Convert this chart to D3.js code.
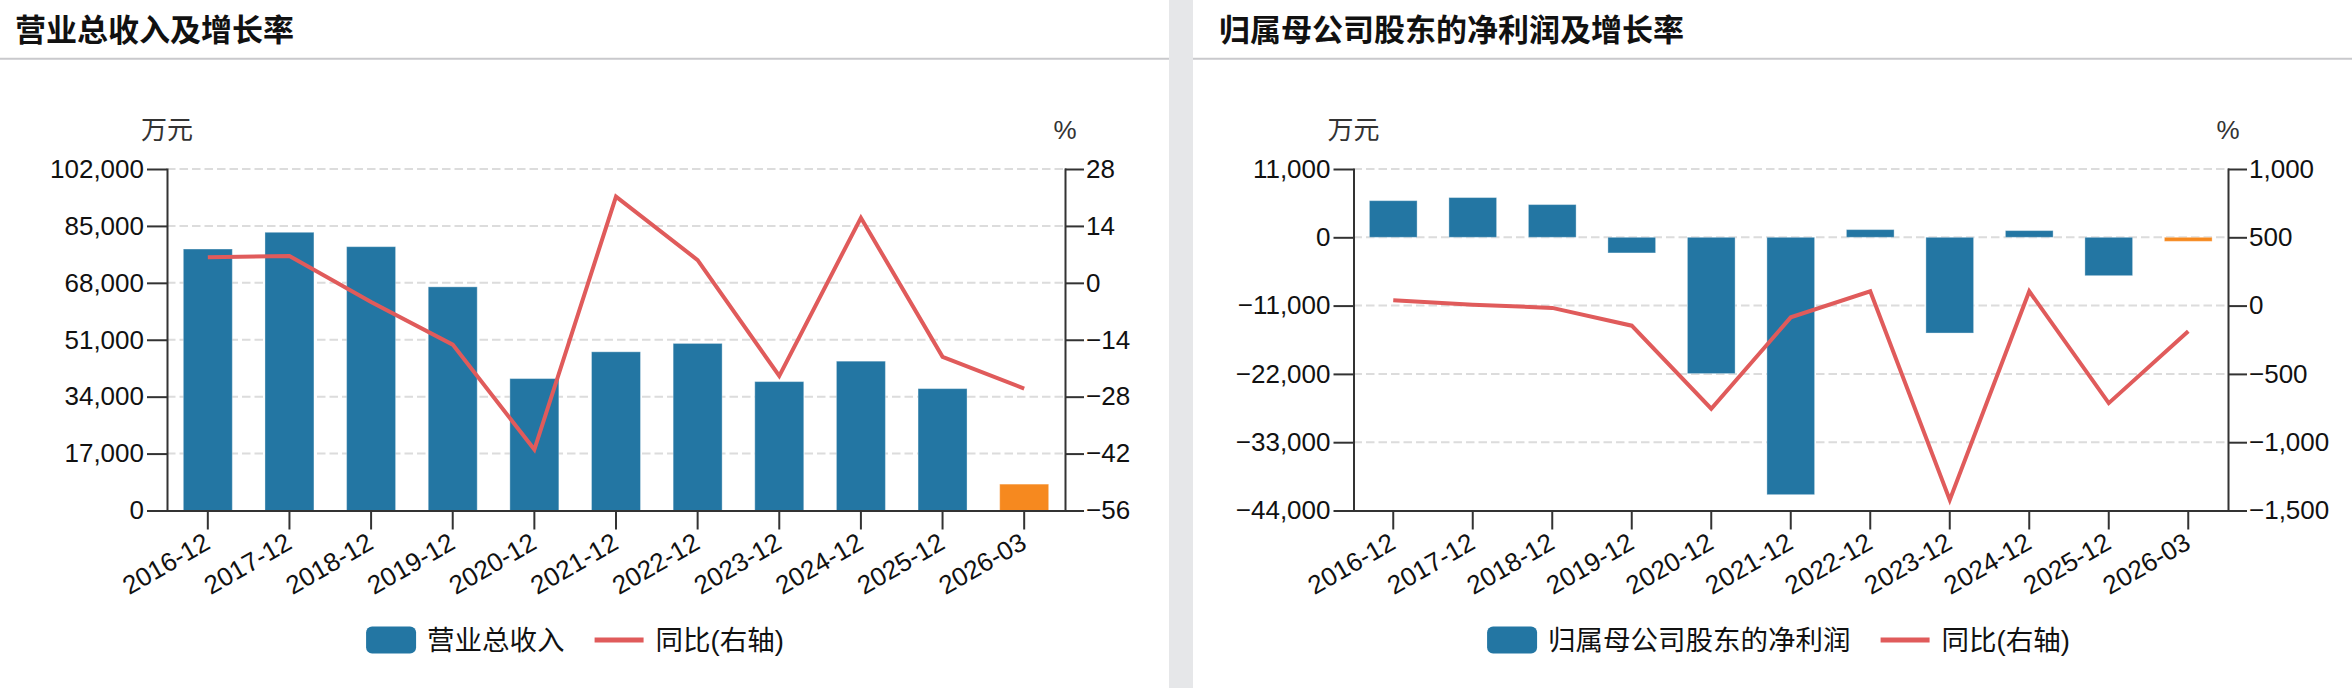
<!DOCTYPE html>
<html>
<head>
<meta charset="utf-8">
<script src="https://cdn.jsdelivr.net/npm/d3@7"></script>
<style>
  html, body { margin: 0; padding: 0; background: #fff; }
  svg { display: block; }
  text { font-family: "Liberation Sans", "Noto Sans CJK SC", sans-serif; }
</style>
</head>
<body>
<script>
// data
const periods = ["2016-12", "2017-12", "2018-12", "2019-12", "2020-12", "2021-12",
                 "2022-12", "2023-12", "2024-12", "2025-12", "2026-03"];

const revenue = [78100, 83100, 78800, 66800, 39400, 47400, 49900, 38500, 44600, 36400, 7880];
const revenueYoy = [6.3, 6.6, -4.7, -15.2, -41.0, 21.2, 5.6, -22.9, 16.0, -18.2, -26.0];
const revenueTicks = [0, 17000, 34000, 51000, 68000, 85000, 102000];
const revenueYoyTicks = [-56, -42, -28, -14, 0, 14, 28];

const netProfit = [5900, 6400, 5270, -2520, -21950, -41450, 1240, -15420, 1080, -6180, -650];
const netProfitYoy = [39, 7, -17, -147, -755, -86, 105, -1422, 105, -714, -188];
const netProfitTicks = [-44000, -33000, -22000, -11000, 0, 11000];
const netProfitYoyTicks = [-1500, -1000, -500, 0, 500, 1000];

// colours
const barColor = "#2376a3",
      lastColor = "#f6891f",
      lineColor = "#e05b5b",
      axisColor = "#333";

const W = 2352, H = 688;
const plotTop = 169, plotBottom = 510.5;

const svg = d3.select("body").append("svg")
    .attr("width", W)
    .attr("height", H);

// grey gutter between the two panels
svg.append("rect")
    .attr("x", 1169).attr("y", 0)
    .attr("width", 24).attr("height", H)
    .attr("fill", "#e6e7e9");

const fmt = d3.format(",");

function drawPanel(cfg) {
  const g = svg.append("g");

  // header
  g.append("text")
      .attr("x", cfg.titleX)
      .attr("y", 27)
      .attr("dominant-baseline", "central")
      .style("font-family", "'Noto Sans CJK SC', sans-serif")
      .style("font-size", "31px")
      .style("font-weight", "bold")
      .attr("fill", "#111")
      .text(cfg.title);

  g.append("line")
      .attr("x1", cfg.x0).attr("x2", cfg.x1)
      .attr("y1", 58.7).attr("y2", 58.7)
      .attr("stroke", "#c9c9cc")
      .attr("stroke-width", 2);

  // scales
  const x = d3.scaleBand()
      .domain(periods)
      .range([cfg.left, cfg.right])
      .paddingInner(0.4)
      .paddingOuter(0.2);

  const y = d3.scaleLinear()
      .domain(d3.extent(cfg.ticks))
      .range([plotBottom, plotTop]);

  const y2 = d3.scaleLinear()
      .domain(d3.extent(cfg.ticks2))
      .range([plotBottom, plotTop]);

  // dashed grid
  g.append("g")
    .selectAll("line")
    .data(cfg.ticks.filter(t => y(t) < plotBottom - 1))
    .join("line")
      .attr("x1", cfg.left).attr("x2", cfg.right)
      .attr("y1", d => y(d)).attr("y2", d => y(d))
      .attr("stroke", "#dcdcdc")
      .attr("stroke-width", 2)
      .attr("stroke-dasharray", "8.5,4");

  // bars
  const last = periods.length - 1;
  g.append("g")
    .selectAll("rect")
    .data(cfg.bars)
    .join("rect")
      .attr("x", (d, i) => x(periods[i]))
      .attr("y", d => y(Math.max(0, d)))
      .attr("width", x.bandwidth())
      .attr("height", d => Math.abs(y(d) - y(0)))
      .attr("fill", (d, i) => i === last ? lastColor : barColor)
      .attr("stroke", "#fff")
      .attr("stroke-opacity", 0.35)
      .attr("stroke-width", 1);

  // axes
  const styleAxis = sel => {
    sel.selectAll("path, line").attr("stroke", axisColor).attr("stroke-width", 2);
    sel.selectAll("text").attr("fill", "#111").style("font-size", "26px");
  };

  g.append("g")
      .attr("transform", `translate(${cfg.left},0)`)
      .call(d3.axisLeft(y).tickValues(cfg.ticks).tickFormat(fmt)
            .tickSize(20).tickSizeOuter(0).tickPadding(3))
      .call(styleAxis);

  g.append("g")
      .attr("transform", `translate(${cfg.right},0)`)
      .call(d3.axisRight(y2).tickValues(cfg.ticks2).tickFormat(fmt)
            .tickSize(19).tickSizeOuter(0).tickPadding(2))
      .call(styleAxis);

  g.append("g")
      .attr("transform", `translate(0,${plotBottom})`)
      .call(d3.axisBottom(x).tickSize(19).tickSizeOuter(0))
      .call(styleAxis)
    .selectAll("text")
      .attr("x", 0).attr("y", 0).attr("dy", 0)
      .attr("transform", "translate(4,37) rotate(-30)")
      .style("text-anchor", "end");

  g.selectAll(".domain").attr("stroke-linecap", "square");

  // unit labels
  [["万元", cfg.left], ["%", cfg.right]].forEach(([t, cx]) => {
    g.append("text")
        .attr("x", cx).attr("y", 130)
        .attr("text-anchor", "middle")
        .attr("dominant-baseline", "central")
        .attr("fill", "#333")
        .style("font-size", "26px")
        .text(t);
  });

  // yoy line
  const line = d3.line()
      .x((d, i) => x(periods[i]) + x.bandwidth() / 2)
      .y(d => y2(d));

  g.append("path")
      .datum(cfg.line)
      .attr("d", line)
      .attr("fill", "none")
      .attr("stroke", lineColor)
      .attr("stroke-width", 4)
      .attr("stroke-linejoin", "miter");

  // legend
  const lg = g.append("g");
  const ly = 640;
  const t1 = lg.append("text")
      .attr("dominant-baseline", "central")
      .attr("y", ly)
      .style("font-size", "27.5px")
      .attr("fill", "#111")
      .text(cfg.barName);
  const t2 = lg.append("text")
      .attr("dominant-baseline", "central")
      .attr("y", ly)
      .style("font-size", "27.5px")
      .attr("fill", "#111")
      .text("同比(右轴)");

  const w1 = t1.node().getComputedTextLength(),
        w2 = t2.node().getComputedTextLength();
  const total = 50 + 11 + w1 + 30 + 49 + 12 + w2;
  let lx = cfg.legendCx - total / 2;

  lg.append("rect")
      .attr("x", lx).attr("y", ly - 13.5)
      .attr("width", 50).attr("height", 27)
      .attr("rx", 6)
      .attr("fill", barColor);
  t1.attr("x", lx + 61);
  lx += 61 + w1 + 30;
  lg.append("line")
      .attr("x1", lx).attr("x2", lx + 49)
      .attr("y1", ly).attr("y2", ly)
      .attr("stroke", lineColor)
      .attr("stroke-width", 5);
  t2.attr("x", lx + 61);
}

drawPanel({
  title: "营业总收入及增长率",
  titleX: 15, x0: 0, x1: 1169,
  left: 167, right: 1065,
  ticks: revenueTicks, ticks2: revenueYoyTicks,
  bars: revenue, line: revenueYoy,
  barName: "营业总收入",
  legendCx: 575
});

drawPanel({
  title: "归属母公司股东的净利润及增长率",
  titleX: 1219, x0: 1193, x1: W,
  left: 1353.5, right: 2228,
  ticks: netProfitTicks, ticks2: netProfitYoyTicks,
  bars: netProfit, line: netProfitYoy,
  barName: "归属母公司股东的净利润",
  legendCx: 1778.5
});
</script>
</body>
</html>
